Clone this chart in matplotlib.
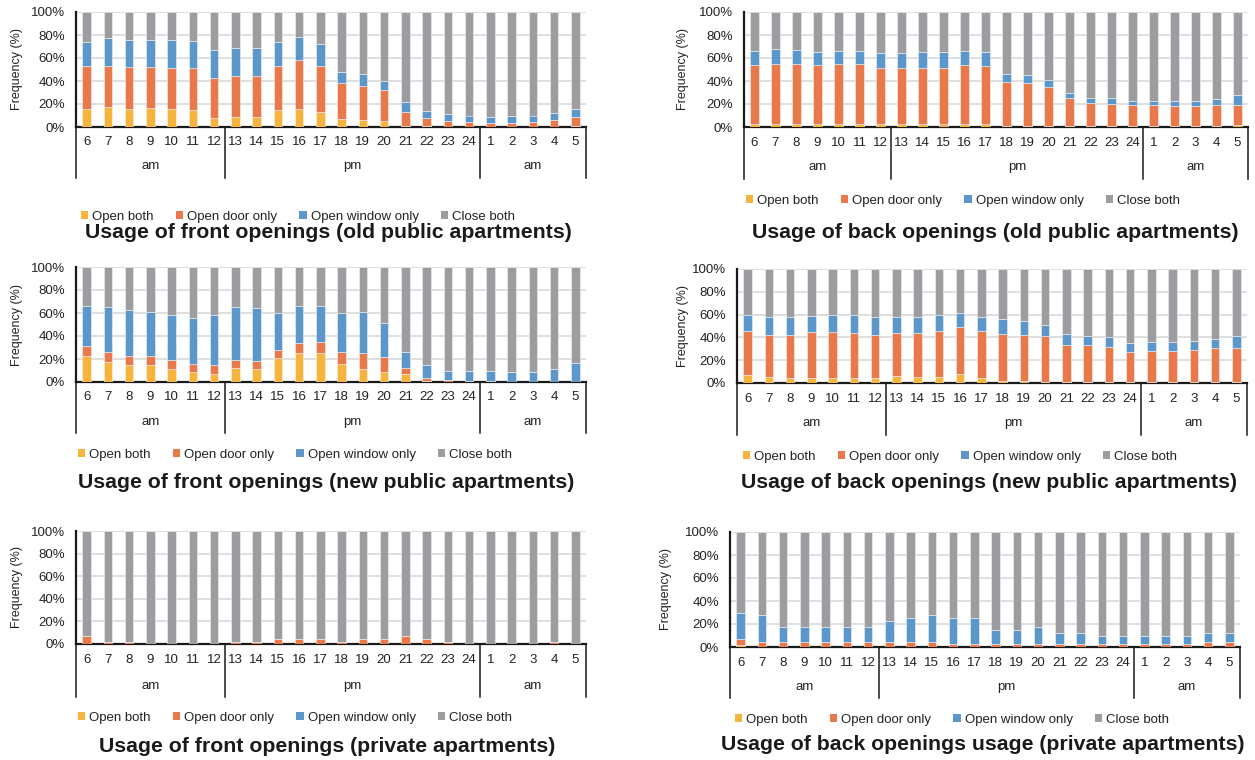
import matplotlib
matplotlib.use('Agg')
import matplotlib.pyplot as plt
from matplotlib.transforms import blended_transform_factory
from matplotlib.patches import Patch

plt.rcParams['font.family'] = ['Liberation Sans', 'DejaVu Sans']

# ---------------- data ----------------
hours = ['6', '7', '8', '9', '10', '11', '12', '13', '14', '15', '16', '17', '18',
         '19', '20', '21', '22', '23', '24', '1', '2', '3', '4', '5']
periods = ['am', 'pm', 'am']
period_sizes = [7, 12, 5]
series_names = ['Open both', 'Open door only', 'Open window only', 'Close both']

# Panel 1: front openings, old public apartments
p1_both = [16, 17, 15.5, 16.5, 16, 15, 8, 9, 9, 15, 15.5, 13, 7, 6, 5, 1, 0.5, 0, 0, 0, 0, 0, 0, 1]
p1_door = [37, 36, 36.5, 35.5, 35, 36, 35, 35, 35, 38, 42.5, 40, 31, 30, 27, 12, 7, 5, 4, 3.5, 3.5, 4, 6, 8]
p1_window = [21, 24, 24, 24, 25, 24, 24, 24.5, 24.5, 20.5, 20, 19, 9.5, 10, 8, 9, 6.5, 6, 6, 5.5, 6.5, 6, 6, 7]
p1_close = [26, 23, 24, 24, 24, 25, 33, 31.5, 31.5, 26.5, 22, 28, 52.5, 54, 60, 78, 86, 89, 90, 91, 90, 90, 88, 84]

# Panel 2: back openings, old public apartments
p2_both = [3, 3, 3, 3, 3, 3, 3, 3, 3, 3, 3, 3, 1, 1, 1, 1, 1, 1, 1, 1, 1, 1, 1, 2]
p2_door = [51, 52, 52, 51, 51.5, 51.5, 48.5, 48.5, 48.5, 48.5, 51, 50, 38, 37, 34, 24, 20, 19, 18, 18, 17, 17, 18, 17.5]
p2_window = [12.5, 12.5, 12, 11.5, 12, 12, 12.5, 12.5, 13.5, 13.5, 12.5, 12, 7, 7, 6, 5, 4.5, 5, 4, 4, 5, 5, 5.5, 8.5]
p2_close = [33.5, 32.5, 33, 34.5, 33.5, 33.5, 36, 36, 35, 35, 33.5, 35, 54, 55, 59, 70, 74.5, 75, 77, 77, 77, 77, 75.5, 72]

# Panel 3: front openings, new public apartments
p3_both = [23, 17, 15, 15, 11, 9, 7, 12, 11, 21, 25, 25, 15.5, 11, 9, 7, 0.5, 0, 0, 0, 0, 0, 0, 0]
p3_door = [8, 9, 8, 8, 8, 7, 8, 7, 7, 7, 9, 10, 10.5, 14, 13, 5, 3, 1.5, 1, 1, 0, 0, 0, 0]
p3_window = [35.5, 39, 40, 37.5, 39, 40, 43, 46, 46, 32, 32.5, 31.5, 34, 35.5, 29, 14, 11.5, 8.5, 9, 9, 9, 9, 11, 16.5]
p3_close = [33.5, 35, 37, 39.5, 42, 44, 42, 35, 36, 40, 33.5, 33.5, 40, 39.5, 49, 74, 85, 90, 90, 90, 91, 91, 89, 83.5]

# Panel 4: back openings, new public apartments
p4_both = [7, 5, 4, 4, 4, 4, 4, 6, 5, 5, 7.5, 4, 2, 2, 1, 1, 1, 1, 1, 1, 1, 1, 1, 1]
p4_door = [39, 37.5, 38.5, 40.5, 40.5, 40, 38.5, 38, 39, 41, 41.5, 42, 41, 40, 40, 32, 32, 30.5, 26, 27, 27, 28, 30, 30]
p4_window = [13.5, 15, 15, 14.5, 15, 15.5, 15, 13.5, 13.5, 13.5, 12.5, 12, 13, 12, 10, 10, 8, 8.5, 8, 8, 8, 8, 7.5, 10]
p4_close = [40.5, 42.5, 42.5, 41, 40.5, 40.5, 42.5, 42.5, 42.5, 40.5, 38.5, 42, 44, 46, 49, 57, 59, 60, 65, 64, 64, 63, 61.5, 59]

# Panel 5: front openings, private apartments
p5_both = [0] * 24
p5_door = [7, 1.5, 1.5, 0, 0, 0, 0, 1.5, 1.5, 4.5, 4.5, 4.5, 1.5, 4, 4, 7, 4, 1.5, 0, 0, 0, 0, 1.5, 0]
p5_window = [0] * 24
p5_close = [93, 98.5, 98.5, 100, 100, 100, 100, 98.5, 98.5, 95.5, 95.5, 95.5, 98.5, 96, 96, 93, 96, 98.5,
            100, 100, 100, 100, 98.5, 100]

# Panel 6: back openings, private apartments
p6_both = [2, 0, 0, 0, 0, 0, 0, 0, 0, 0, 0, 0, 0, 0, 0, 0, 0, 0, 0, 0, 0, 0, 0, 0]
p6_door = [5, 4.5, 4.5, 4.5, 4.5, 4.5, 4.5, 4.5, 4.5, 4.5, 2.5, 2.5, 2.5, 2.5, 2.5, 2.5, 2.5, 2.5, 2.5, 2.5,
           2.5, 2.5, 4.5, 4.5]
p6_window = [23, 23.5, 13, 13, 13, 13, 13, 18.5, 21, 23.5, 23, 23, 12, 12, 15, 9.5, 9.5, 7, 7, 7, 7, 7, 7.5, 7.5]
p6_close = [70, 72, 82.5, 82.5, 82.5, 82.5, 82.5, 77, 74.5, 72, 74.5, 74.5, 85.5, 85.5, 82.5, 88, 88, 90.5,
            90.5, 90.5, 90.5, 90.5, 88, 88]

titles = ['Usage of front openings (old public apartments)',
          'Usage of back openings (old public apartments)',
          'Usage of front openings (new public apartments)',
          'Usage of back openings (new public apartments)',
          'Usage of front openings (private apartments)',
          'Usage of back openings usage (private apartments)']

panel_data = [
    (p1_both, p1_door, p1_window, p1_close),
    (p2_both, p2_door, p2_window, p2_close),
    (p3_both, p3_door, p3_window, p3_close),
    (p4_both, p4_door, p4_window, p4_close),
    (p5_both, p5_door, p5_window, p5_close),
    (p6_both, p6_door, p6_window, p6_close),
]

# ---------------- layout (pixels) ----------------
W, H = 1255, 760
# left, right, top, bottom, hour_y, period_y, line_bottom, legend_x, legend_y, title_x, title_y, ylabel_x
layouts = [
    (76, 586, 12, 127, 142, 166, 178, 298, 217, 328, 233, 17),
    (744, 1248, 12, 127, 143, 167, 179, 963, 201, 995, 233, 683),
    (76, 586, 267, 382, 397, 422, 433, 295, 455, 326, 483, 17),
    (737, 1247, 269, 383, 399, 423, 435, 960, 457, 989, 483, 683),
    (76, 586, 531, 644, 660, 686, 697, 295, 718, 327, 747, 17),
    (730, 1240, 532, 647, 663, 687, 698, 952, 720, 983, 745, 666),
]

colors = ['#F6B43C', '#E8794A', '#5B97CB', '#9C9DA1']

fig = plt.figure(figsize=(W / 100, H / 100), dpi=100)

xs = list(range(len(hours)))
for data, title, lay in zip(panel_data, titles, layouts):
    l, r, t, b, hy, py, lb, lx, ly, tx, ty, ylx = lay
    ax = fig.add_axes([l / W, 1 - b / H, (r - l) / W, (b - t) / H])
    bottom = [0.0] * len(xs)
    for vals, c in zip(data, colors):
        ax.bar(xs, vals, width=0.4, bottom=bottom, color=c, edgecolor='#F2F2F2', linewidth=0.4, zorder=3)
        bottom = [bb + v for bb, v in zip(bottom, vals)]
    ax.set_xlim(-0.5, len(xs) - 0.5)
    ax.set_ylim(0, 100)
    ax.set_yticks([0, 20, 40, 60, 80, 100])
    ax.set_yticklabels([f'{v}%' for v in [0, 20, 40, 60, 80, 100]])
    ax.tick_params(axis='y', length=0, pad=8, labelsize=9.5, colors='#222222')
    ax.set_xticks([])
    ax.yaxis.grid(True, color='#D9D9D9', linewidth=1.2, zorder=0)
    ax.set_axisbelow(True)
    for s in ['top', 'right']:
        ax.spines[s].set_visible(False)
    for s in ['left', 'bottom']:
        ax.spines[s].set_color('#1a1a1a')
        ax.spines[s].set_linewidth(1.6)

    tr = blended_transform_factory(ax.transData, fig.transFigure)
    for i, h in enumerate(hours):
        ax.text(i, 1 - hy / H, h, transform=tr, ha='center', va='center', fontsize=9.5, color='#222222')
    bounds = [-0.5]
    for n in period_sizes:
        bounds.append(bounds[-1] + n)
    for x in bounds:
        ax.plot([x, x], [1 - b / H, 1 - lb / H], transform=tr, color='#1a1a1a', lw=1.1, clip_on=False)
    for p, a, z in zip(periods, bounds[:-1], bounds[1:]):
        ax.text((a + z) / 2, 1 - py / H, p, transform=tr, ha='center', va='center', fontsize=9.5, color='#222222')

    fig.text(ylx / W, 1 - (t + b) / 2 / H, 'Frequency (%)', rotation=90, ha='center', va='center',
             fontsize=9, color='#222222')
    handles = [Patch(facecolor=c, edgecolor='none') for c in colors]
    fig.legend(handles, series_names, loc='center', bbox_to_anchor=(lx / W, 1 - ly / H), ncol=4,
               frameon=False, fontsize=9.5, handlelength=0.55, handleheight=0.55, handletextpad=0.3,
               columnspacing=1.7, borderpad=0, labelcolor='#222222')
    fig.text(tx / W, 1 - ty / H, title, ha='center', va='center', fontsize=15.3, fontweight='bold',
             color='#1a1a1a')

fig.savefig('out.png', dpi=100)
